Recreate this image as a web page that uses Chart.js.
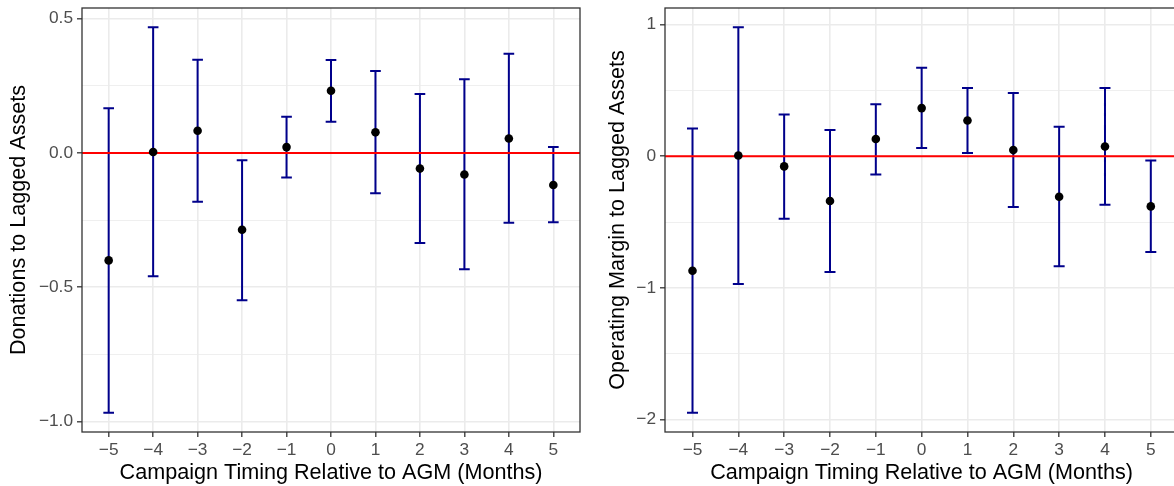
<!DOCTYPE html>
<html><head><meta charset="utf-8">
<script src="https://cdn.jsdelivr.net/npm/chart.js@4.4.1/dist/chart.umd.min.js"></script>
<style>
html,body{margin:0;padding:0;background:#fff;overflow:hidden;width:1174px;height:486px;}
#wrap{position:relative;width:1174px;height:486px;overflow:hidden;background:#fff;}
canvas{position:absolute;top:0;}
#c1{left:0;}
#c2{left:587px;}
</style></head><body>
<div id="wrap"><canvas id="c1" width="587" height="486"></canvas><canvas id="c2" width="600" height="486"></canvas></div>
<script>
// ---- data ----
const months = [-5, -4, -3, -2, -1, 0, 1, 2, 3, 4, 5];
const monthLabels = ['\u22125', '\u22124', '\u22123', '\u22122', '\u22121', '0', '1', '2', '3', '4', '5'];

const donEst = [-0.400, 0.004, 0.083, -0.286, 0.022, 0.232, 0.077, -0.058, -0.080, 0.054, -0.119];
const donLo  = [-0.967, -0.459, -0.182, -0.548, -0.091, 0.116, -0.150, -0.335, -0.433, -0.260, -0.258];
const donHi  = [0.167, 0.468, 0.347, -0.027, 0.135, 0.346, 0.305, 0.220, 0.275, 0.370, 0.022];

const opEst = [-0.870, 0.006, -0.077, -0.340, 0.131, 0.366, 0.272, 0.047, -0.308, 0.074, -0.381];
const opLo  = [-1.950, -0.971, -0.475, -0.880, -0.138, 0.062, 0.024, -0.386, -0.837, -0.368, -0.728];
const opHi  = [0.211, 0.981, 0.317, 0.199, 0.396, 0.672, 0.518, 0.480, 0.224, 0.518, -0.032];

const donMajor = [-1.0, -0.5, 0.0, 0.5];
const donMajorLabels = ['\u22121.0', '\u22120.5', '0.0', '0.5'];
const donMinor = [-0.75, -0.25, 0.25];

const opMajor = [-2, -1, 0, 1];
const opMajorLabels = ['\u22122', '\u22121', '0', '1'];
const opMinor = [-1.5, -0.5, 0.5];

// ---- style ----
const FONT = "'Liberation Sans', Arial, Helvetica, sans-serif";
const TICK_FONT = {family: FONT, size: 17.3};
const TITLE_FONT = {family: FONT, size: 21.6, lineHeight: 1.2};
const CAP = 0.12;
const X_MIN = -5.6, X_MAX = 5.6;

const borderPlugin = {
  id: 'panelBorder',
  afterDraw(chart) {
    const {ctx, chartArea: a} = chart;
    ctx.save();
    ctx.strokeStyle = '#333333';
    ctx.lineWidth = 1.3;
    ctx.strokeRect(a.left, a.top, a.right - a.left, a.bottom - a.top);
    ctx.restore();
  }
};

function errorBarPoints(lo, hi) {
  const pts = [];
  months.forEach((m, i) => {
    pts.push({x: m, y: lo[i]}, {x: m, y: hi[i]}, {x: m, y: null});
    pts.push({x: m - CAP, y: lo[i]}, {x: m + CAP, y: lo[i]}, {x: m, y: null});
    pts.push({x: m - CAP, y: hi[i]}, {x: m + CAP, y: hi[i]}, {x: m, y: null});
  });
  return pts;
}

function makePanel(id, p) {
  const yTicks = p.major.concat(p.minor).sort((a, b) => a - b);
  const isMajor = v => p.major.some(m => Math.abs(m - v) < 1e-9);
  new Chart(document.getElementById(id), {
    type: 'scatter',
    data: {
      datasets: [
        {
          type: 'scatter',
          data: months.map((m, i) => ({x: m, y: p.est[i]})),
          pointRadius: 4.3,
          pointHoverRadius: 4.3,
          backgroundColor: '#000000',
          borderWidth: 0,
          order: 0
        },
        {
          type: 'line',
          data: [{x: X_MIN, y: 0}, {x: X_MAX, y: 0}],
          borderColor: '#FF0000',
          borderWidth: 2,
          pointRadius: 0,
          fill: false,
          order: 1
        },
        {
          type: 'line',
          data: errorBarPoints(p.lo, p.hi),
          borderColor: '#00008B',
          borderWidth: 2,
          borderCapStyle: 'butt',
          pointRadius: 0,
          spanGaps: false,
          fill: false,
          tension: 0,
          order: 2
        }
      ]
    },
    options: {
      responsive: false,
      animation: false,
      events: [],
      layout: {padding: {left: 0, right: p.rightPad, top: 8, bottom: 0}},
      plugins: {legend: {display: false}, tooltip: {enabled: false}},
      scales: {
        x: {
          type: 'linear',
          min: X_MIN, max: X_MAX,
          afterBuildTicks: s => { s.ticks = months.map(v => ({value: v})); },
          afterFit: s => { s.height = 54; s.paddingLeft = 0; s.paddingRight = 0; },
          ticks: {
            autoSkip: false, maxRotation: 0, minRotation: 0,
            color: '#4D4D4D', font: TICK_FONT, padding: 3,
            callback: v => { const i = months.indexOf(v); return i >= 0 ? monthLabels[i] : ''; }
          },
          grid: {
            color: '#EBEBEB', lineWidth: 1.6,
            drawTicks: true, tickLength: 5, tickColor: '#333333', tickWidth: 1.3
          },
          border: {display: false},
          title: {display: true, text: 'Campaign Timing Relative to AGM (Months)', color: '#000000', font: TITLE_FONT, padding: {top: 0, bottom: 0}}
        },
        y: {
          type: 'linear',
          min: p.yMin, max: p.yMax,
          afterBuildTicks: s => { s.ticks = yTicks.map(v => ({value: v})); },
          afterFit: s => { s.width = p.yAxisWidth; s.paddingTop = 0; s.paddingBottom = 0; },
          ticks: {
            autoSkip: false,
            color: '#4D4D4D', font: TICK_FONT, padding: 4,
            callback: v => { const i = p.major.findIndex(m => Math.abs(m - v) < 1e-9); return i >= 0 ? p.majorLabels[i] : ''; }
          },
          grid: {
            color: '#EBEBEB',
            lineWidth: c => (c.tick && isMajor(c.tick.value)) ? 1.6 : 0.8,
            drawTicks: true, tickLength: 5,
            tickColor: c => (c.tick && isMajor(c.tick.value)) ? '#333333' : 'rgba(0,0,0,0)',
            tickWidth: 1.3
          },
          border: {display: false},
          title: {display: true, text: p.yTitle, color: '#000000', font: TITLE_FONT, padding: {top: p.titlePad, bottom: 0}}
        }
      }
    },
    plugins: [borderPlugin]
  });
}

makePanel('c1', {
  est: donEst, lo: donLo, hi: donHi,
  yMin: -1.039, yMax: 0.540,
  major: donMajor, majorLabels: donMajorLabels, minor: donMinor,
  yTitle: 'Donations to Lagged Assets',
  yAxisWidth: 82, titlePad: 6.5, rightPad: 7
});

makePanel('c2', {
  est: opEst, lo: opLo, hi: opHi,
  yMin: -2.096, yMax: 1.127,
  major: opMajor, majorLabels: opMajorLabels, minor: opMinor,
  yTitle: 'Operating Margin to Lagged Assets',
  yAxisWidth: 78, titlePad: 18, rightPad: 8.7
});
</script>
</body></html>
